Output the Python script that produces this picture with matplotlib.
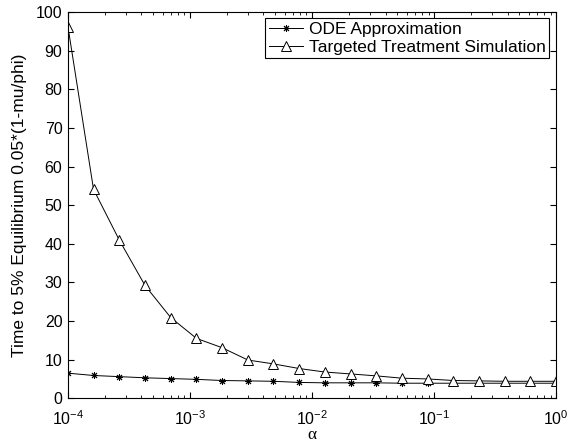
import matplotlib
matplotlib.use("Agg")
import matplotlib.pyplot as plt

plt.rcParams['font.family'] = ['Liberation Sans', 'DejaVu Sans']
plt.rcParams['mathtext.fontset'] = 'custom'
plt.rcParams['mathtext.rm'] = 'Liberation Sans'
plt.rcParams['mathtext.it'] = 'Liberation Serif'

# alpha values (log spaced, 20 points)
alpha = [1.0e-4, 1.62e-4, 2.64e-4, 4.28e-4, 6.95e-4, 1.13e-3, 1.83e-3, 2.98e-3,
         4.83e-3, 7.85e-3, 1.27e-2, 2.07e-2, 3.36e-2, 5.46e-2, 8.86e-2, 0.144,
         0.234, 0.379, 0.616, 1.0]
ode = [6.5, 5.9, 5.6, 5.3, 5.1, 4.9, 4.6, 4.5, 4.4, 4.1,
       4.0, 4.0, 4.0, 3.9, 3.9, 3.9, 3.9, 3.9, 3.9, 3.9]
sim = [96.2, 54.1, 40.9, 29.2, 20.9, 15.5, 13.1, 9.9, 8.9, 7.7,
       6.8, 6.3, 5.8, 5.2, 5.0, 4.6, 4.5, 4.4, 4.4, 4.4]

fig = plt.figure(figsize=(5.71, 4.45), dpi=100)
ax = fig.add_axes([0.119, 0.105, 0.855, 0.868])

ax.plot(alpha, ode, '-', color='k', lw=0.7, marker=(8, 2, 0), ms=5,
        mfc='k', mec='k', mew=0.7, label='ODE Approximation')
ax.plot(alpha, sim, '-', color='k', lw=0.7, marker='^', ms=6.5,
        mfc='white', mec='k', mew=0.7, label='Targeted Treatment Simulation')

ax.set_xscale('log')
ax.set_xlim(1e-4, 1)
ax.set_ylim(0, 100)
ax.set_yticks(range(0, 101, 10))
ax.tick_params(which='both', direction='in', top=True, right=True, labelsize=11.5)
ax.tick_params(which='major', length=4)
ax.tick_params(which='minor', length=2)
ax.tick_params(axis='x', pad=8)
ax.tick_params(axis='y', pad=4)
for s in ax.spines.values():
    s.set_linewidth(0.8)

ax.set_xlabel(r'$\alpha$', fontsize=12.5, labelpad=-1)
ax.set_ylabel('Time to 5% Equilibrium 0.05*(1-mu/phi)', fontsize=12.5, labelpad=6)

leg = ax.legend(loc='upper left', bbox_to_anchor=(0.404, 0.984), fontsize=12.5,
                fancybox=False, framealpha=1, edgecolor='k', borderaxespad=0,
                handlelength=2.0, borderpad=0.2, labelspacing=0.15,
                handletextpad=0.3)
leg.get_frame().set_linewidth(0.8)

fig.savefig('out.png', dpi=100)
